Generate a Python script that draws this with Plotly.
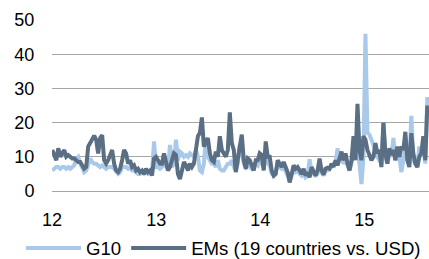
import pandas as pd
import plotly.graph_objects as go

start_date = "2012-01-02"
n_weeks = 189

em_values = [
    12, 10, 9, 12.5, 10, 11, 12, 10, 10.5, 10,
    9.5, 9.5, 9, 8.5, 8.5, 7.5, 6.5, 7, 13, 14,
    15, 16.2, 15, 11, 15.5, 16.3, 9, 8, 9, 11,
    12, 8, 6, 5.5, 6.5, 9, 12, 11, 8, 9,
    7, 7.5, 6, 6.5, 5.5, 6, 5, 6.5, 5.5, 6,
    4.5, 9.5, 10, 9, 8, 8, 11, 8.5, 6, 7,
    9, 11, 10.5, 5, 3.5, 6, 8.5, 7.5, 6, 8,
    7, 8, 12.5, 16, 17, 21.5, 13, 14, 15.5, 11,
    9, 8.5, 11.5, 10, 16, 12, 11, 10, 12, 23,
    14, 12, 5.5, 10, 13, 16.5, 9, 6.5, 9.5, 9,
    7.5, 6, 9, 9, 11, 10.5, 6, 14.5, 10, 10,
    6, 4.5, 5, 9, 8, 7, 8.5, 7, 5.5, 2.5,
    5, 7.5, 6.5, 7, 6, 5, 6.5, 4.5, 5.5, 4,
    7, 5.5, 4.5, 6, 9.5, 6, 4.8, 6.5, 6.8, 6.5,
    8, 7, 9, 7.5, 10, 11.5, 9, 11, 8, 6,
    9, 16, 9, 25.5, 12, 9, 16, 15, 12, 10,
    9, 10, 14, 11, 12, 7, 20, 11, 8, 12.5,
    10.5, 12, 9, 13, 10, 13, 12, 17.3, 9, 7,
    16.9, 11, 8, 7, 10, 11, 16, 9, 25,
]

g10_values = [
    6, 6.5, 7, 7, 6.5, 7, 7, 6.5, 7, 6.5,
    7, 7.5, 9.5, 10, 8, 6.5, 5.5, 6, 8, 9.5,
    8.5, 8, 8, 7.5, 7, 7.5, 7, 6.5, 7, 7,
    7, 6.5, 5.5, 5, 5.5, 7, 7, 7, 6.5, 7,
    6, 6, 5.5, 5, 5, 5.5, 5, 5.5, 5, 5.5,
    5.5, 14.5, 7, 7, 6.5, 7, 8, 7, 6.5, 13.5,
    7, 8, 15, 9, 11.5, 11, 10, 10.5, 10, 11,
    10.5, 10, 12, 10, 6, 5.5, 8, 15.5, 10, 9,
    8, 8, 7, 9, 6.5, 6, 6, 7, 8, 8,
    9, 7, 6, 8, 13.5, 12, 8, 7, 8, 7,
    6.5, 7, 8, 7.5, 9, 8, 7, 12, 8, 7.5,
    5, 4.5, 5.5, 7, 7, 6.5, 7, 6, 4.5, 3,
    5, 6, 5.5, 6, 5, 4.5, 5.5, 4, 4.5, 9.3,
    5.5, 5, 4.5, 5, 7.5, 5.5, 4.5, 6, 6, 6.5,
    7, 8, 8, 12.5, 9, 10, 8, 9, 7, 6,
    8, 12, 10, 12, 8, 2, 10, 46, 17, 16.5,
    15, 13, 12, 10, 9, 8, 20, 10, 8, 11,
    10, 15.5, 9, 10, 10, 5.5, 9, 13, 10, 8,
    22, 9, 8, 7, 13, 10, 13, 8, 27.5,
]

series_names = ["G10", "EMs (19 countries vs. USD)"]
y_ticks = [0, 10, 20, 30, 40, 50]

dates = pd.date_range(start_date, periods=n_weeks, freq="7D")

fig = go.Figure()
fig.add_trace(go.Scatter(x=dates, y=g10_values, mode="lines", name=series_names[0],
                         line=dict(color="#a9c9ea", width=4)))
fig.add_trace(go.Scatter(x=dates, y=em_values, mode="lines", name=series_names[1],
                         line=dict(color="#5a6e84", width=4)))

font_family = "Liberation Sans, Arial, sans-serif"
fig.update_layout(
    width=429, height=259,
    margin=dict(l=52, r=0, t=20, b=68, autoexpand=False),
    paper_bgcolor="white", plot_bgcolor="white",
    font=dict(family=font_family, size=18, color="#000000"),
    showlegend=True,
    legend=dict(orientation="h", x=-0.0822, xanchor="left", y=-0.335, yanchor="middle",
                font=dict(size=18.6), itemwidth=55, tracegroupgap=0,
                bgcolor="rgba(0,0,0,0)"),
)
fig.update_xaxes(
    type="date", range=["2012-01-01", "2015-08-16"],
    tickformat="%y", dtick="M12", tick0="2012-01-01",
    showgrid=False, zeroline=False, showline=False,
    ticks="outside", ticklen=12, tickcolor="rgba(0,0,0,0)",
    tickfont=dict(size=18), automargin=False,
)
fig.update_yaxes(
    range=[0, 50], tickvals=y_ticks,
    showgrid=True, gridcolor="#a6a6a6", gridwidth=1,
    zeroline=True, zerolinecolor="#a6a6a6", zerolinewidth=1,
    showline=False,
    ticks="outside", ticklen=13, tickcolor="rgba(0,0,0,0)",
    tickfont=dict(size=18), automargin=False,
)

fig.write_html("out.html", config={"displayModeBar": False},
               post_script="document.body.style.margin='0';")
